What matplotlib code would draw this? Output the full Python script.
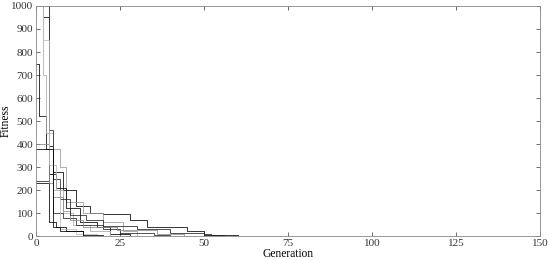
import numpy as np
import matplotlib.pyplot as plt

plt.rcParams['font.family'] = ['Liberation Serif', 'DejaVu Serif']

# step runs: generation where the best fitness changes, and the new fitness
runs = [
    ([0, 2, 4, 5, 8, 12, 16, 20, 28, 33, 45, 50, 60],
     [1150, 950, 390, 280, 200, 130, 100, 95, 70, 40, 20, 5, 0]),
    ([0, 3, 4, 7, 9, 14, 20, 26, 30],
     [1100, 1000, 380, 300, 150, 100, 60, 20, 0]),
    ([0, 1, 3, 4, 6, 9, 13, 18, 22, 28],
     [750, 520, 380, 270, 210, 120, 60, 40, 10, 0]),
    ([0, 2, 3, 5, 8, 11, 16, 22],
     [1000, 700, 450, 200, 100, 50, 20, 0]),
    ([0, 3, 4, 5, 8, 12, 20, 25, 35, 40],
     [240, 240, 270, 100, 80, 50, 30, 15, 5, 0]),
    ([0, 3, 4, 6, 9, 14],
     [230, 230, 60, 40, 20, 0]),
    ([0, 4, 5, 8, 10, 14, 24, 36, 44],
     [400, 230, 170, 110, 70, 40, 25, 10, 0]),
    ([0, 4, 5, 7, 10, 15, 20, 30, 40, 50, 52, 56],
     [1200, 460, 250, 160, 90, 70, 45, 30, 15, 8, 3, 0]),
    ([0, 2, 4, 6, 7, 12, 18],
     [1000, 850, 310, 200, 30, 10, 0]),
    ([0, 4, 5, 7, 14, 20],
     [380, 380, 40, 20, 5, 0]),
]
colors = ['black', '#999999', 'black', '#aaaaaa', '#222222',
          'black', '#888888', '#222222', '#bbbbbb', 'black']

fig = plt.figure(figsize=(5.5, 2.6), dpi=100)
ax = fig.add_axes([0.0655, 0.092, 0.9165, 0.885])

for (g, f), c in zip(runs, colors):
    ax.step(g, f, where='post', color=c, lw=0.55)

ax.set_xlim(0, 150)
ax.set_ylim(0, 1000)
ax.set_xticks(np.arange(0, 151, 25))
ax.set_yticks(np.arange(0, 1001, 100))
ax.tick_params(direction='in', top=True, right=True, labelsize=8,
               length=3, width=0.5, pad=2, colors='#333333')
for s in ax.spines.values():
    s.set_linewidth(0.6)
    s.set_color('#888888')
ax.set_xlabel('Generation', fontsize=8.3)
ax.set_ylabel('Fitness', fontsize=8.3)
ax.xaxis.set_label_coords(0.5, -0.05)
ax.yaxis.set_label_coords(-0.048, 0.5)

fig.savefig('out.png', dpi=100)
